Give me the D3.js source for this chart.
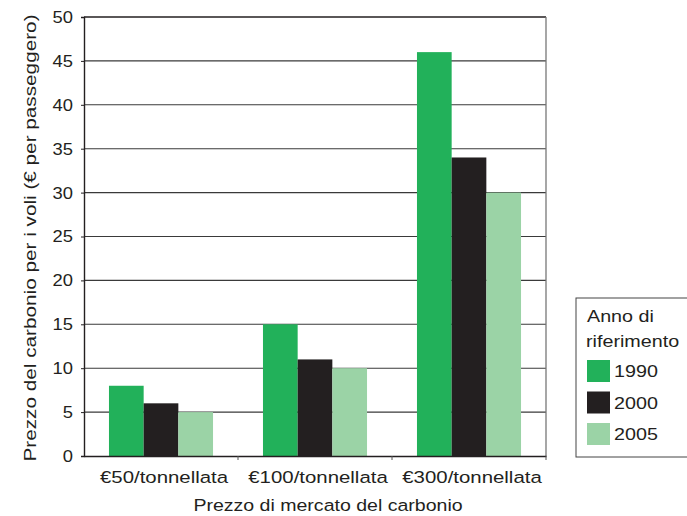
<!DOCTYPE html>
<html>
  <head>
    <script src="https://cdn.jsdelivr.net/npm/d3@7"></script>
    <style>
      body { margin: 0; background: #fff; }
      text { font-family: "Liberation Sans", Arial, sans-serif; fill: #231f20; }
    </style>
  </head>
  <body>
    <script>
    // Data
    var categories = ["€50/tonnellata", "€100/tonnellata", "€300/tonnellata"];
    var years = ["1990", "2000", "2005"];
    var values1990 = [8, 15, 46];
    var values2000 = [6, 11, 34];
    var values2005 = [5, 10, 30];
    var yTicks = [0, 5, 10, 15, 20, 25, 30, 35, 40, 45, 50];
    var colors = ["#22b15a", "#231f20", "#9bd3a6"];

    var series = [values1990, values2000, values2005];

    var W = 687, H = 516;
    var plot = {left: 84, right: 546, top: 17, bottom: 456};

    var svg = d3.select("body").append("svg")
      .attr("width", W)
      .attr("height", H);

    var x = d3.scaleBand()
      .domain(categories)
      .range([plot.left, plot.right])
      .paddingInner(0)
      .paddingOuter(0);

    var xInner = d3.scaleBand()
      .domain(years)
      .range([0, x.bandwidth()])
      .paddingOuter(0.72)
      .paddingInner(0);

    var y = d3.scaleLinear()
      .domain([0, 50])
      .range([plot.bottom, plot.top]);

    // gridlines
    svg.append("g")
      .selectAll("line")
      .data(yTicks.slice(1))
      .enter().append("line")
        .attr("x1", plot.left)
        .attr("x2", plot.right)
        .attr("y1", d => y(d))
        .attr("y2", d => y(d))
        .attr("stroke", d => d == 50 ? "#231f20" : "#3a3a3a")
        .attr("stroke-width", d => d == 50 ? 1.6 : 1.1);

    // right border
    svg.append("line")
      .attr("x1", plot.right).attr("x2", plot.right)
      .attr("y1", plot.top).attr("y2", plot.bottom)
      .attr("stroke", "#777").attr("stroke-width", 1.3);

    // bars
    var groups = svg.append("g")
      .selectAll("g")
      .data(series)
      .enter().append("g")
        .attr("fill", (d, i) => colors[i]);

    groups.selectAll("rect")
      .data((d, i) => d.map((v, j) => ({v: v, cat: categories[j], year: years[i]})))
      .enter().append("rect")
        .attr("x", d => x(d.cat) + xInner(d.year))
        .attr("width", xInner.bandwidth())
        .attr("y", d => y(d.v))
        .attr("height", d => y(0) - y(d.v));

    // y axis
    var yAxis = svg.append("g")
      .attr("transform", `translate(${plot.left},0)`)
      .call(d3.axisLeft(y).tickValues(yTicks).tickSize(3));
    yAxis.select(".domain").attr("stroke", "#231f20").attr("stroke-width", 1.4);
    yAxis.selectAll(".tick line").attr("stroke", "#231f20");
    yAxis.selectAll("text")
      .attr("x", 0)
      .attr("transform", "translate(-11,0) scale(1.08,1)")
      .style("font-size", "17px").attr("fill", "#231f20")
      .style("font-family", "Liberation Sans, Arial, sans-serif");

    // x axis (ticks at category boundaries)
    var xAxis = svg.append("g")
      .attr("transform", `translate(0,${plot.bottom})`)
      .call(d3.axisBottom(x).tickSize(0).tickPadding(15));
    xAxis.select(".domain").attr("stroke", "#231f20").attr("stroke-width", 1.4);
    xAxis.selectAll("text")
      .attr("transform", "translate(3,0) scale(1.2,1)")
      .style("font-size", "17px").attr("fill", "#231f20")
      .style("font-family", "Liberation Sans, Arial, sans-serif");

    svg.append("g")
      .selectAll("line")
      .data(categories)
      .enter().append("line")
        .attr("x1", d => x(d) + x.bandwidth())
        .attr("x2", d => x(d) + x.bandwidth())
        .attr("y1", plot.bottom)
        .attr("y2", plot.bottom + 4)
        .attr("stroke", "#555")
        .attr("stroke-width", 1);

    // axis titles
    svg.append("text")
      .attr("text-anchor", "middle")
      .attr("transform", "translate(35.5, 238)rotate(-90)scale(1.22,1)")
      .style("font-size", "17px")
      .text("Prezzo del carbonio per i voli  (€ per passeggero)");

    svg.append("text")
      .attr("text-anchor", "middle")
      .attr("transform", "translate(328,511)scale(1.15,1)")
      .style("font-size", "17px")
      .text("Prezzo di mercato del carbonio");

    // legend
    var legend = svg.append("g").attr("transform", "translate(576,298)");
    legend.append("rect")
      .attr("x", 0).attr("y", 0)
      .attr("width", 120).attr("height", 159)
      .attr("fill", "none")
      .attr("stroke", "#444")
      .attr("stroke-width", 1);
    legend.append("text").attr("transform", "translate(11,24)scale(1.16,1)")
      .style("font-size", "17px").text("Anno di");
    legend.append("text").attr("transform", "translate(10,48.5)scale(1.16,1)")
      .style("font-size", "17px").text("riferimento");

    var items = legend.selectAll(".item")
      .data(years)
      .enter().append("g")
        .attr("transform", (d, i) => `translate(11, ${62 + i * 31.5})`);
    items.append("rect")
      .attr("width", 23).attr("height", 22)
      .attr("fill", (d, i) => colors[i]);
    items.append("text")
      .attr("transform", "translate(27,17)scale(1.16,1)")
      .style("font-size", "17px")
      .text(d => d);
    </script>
  </body>
</html>
